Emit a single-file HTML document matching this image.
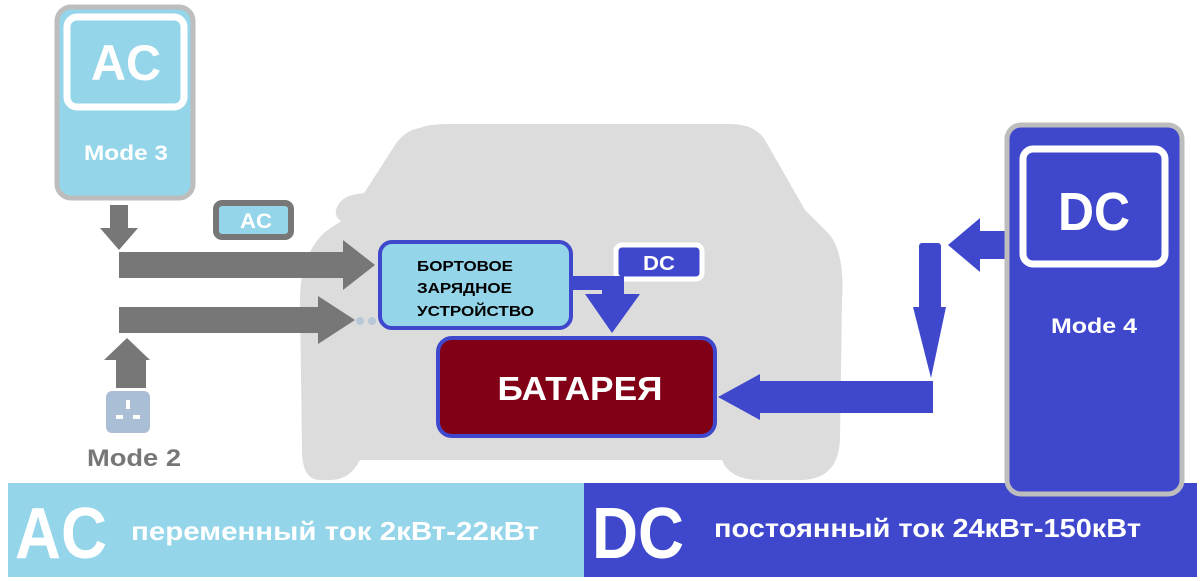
<!DOCTYPE html>
<html><head><meta charset="utf-8"><style>
html,body{margin:0;padding:0;background:#fff;}
svg{display:block;}
text{font-family:"Liberation Sans",sans-serif;font-weight:bold;}
</style></head><body>
<svg width="1203" height="581" viewBox="0 0 1203 581" xmlns="http://www.w3.org/2000/svg">
<!-- car silhouette -->
<g fill="#dcdcdc">
<path d="M420 128 Q428 124 450 124 L730 124 Q755 124 765 140 L805 210 L830 235 Q845 255 842 300 L840 440 Q838 480 800 480 L760 480 Q730 480 722 460 L360 460 Q350 480 330 480 L320 480 Q302 480 302 450 L300 300 Q300 255 325 232 L350 215 L395 145 Q405 130 420 128 Z"/>
<path d="M338 205 Q345 192 375 193 L372 222 L342 222 Q332 215 338 205 Z"/>
<path d="M770 193 Q795 192 800 205 Q803 220 790 222 L775 222 Z"/>
</g>
<!-- Mode 3 box -->
<rect x="57" y="7" width="136" height="191" rx="14" fill="#94d5ea" stroke="#bdbdbd" stroke-width="5"/>
<rect x="67" y="17" width="117" height="90" rx="10" fill="#94d5ea" stroke="#fff" stroke-width="7"/>
<text x="126" y="80" font-size="50" fill="#fff" text-anchor="middle" textLength="70" lengthAdjust="spacingAndGlyphs">AC</text>
<text x="126" y="160" font-size="21" fill="#fff" text-anchor="middle" textLength="84" lengthAdjust="spacingAndGlyphs">Mode 3</text>
<!-- gray arrows -->
<g fill="#777">
<rect x="110" y="205" width="18" height="25"/>
<polygon points="100,228 138,228 119,250"/>
<rect x="119" y="252" width="228" height="26"/>
<polygon points="343,240 375,265 343,290"/>
<rect x="119" y="307" width="210" height="26"/>
<polygon points="318,296 355,320 318,344"/>
<polygon points="104,360 127,338 150,360"/>
<rect x="116" y="358" width="30" height="30"/>
</g>
<circle cx="360" cy="321" r="4" fill="#b8c8d8"/><circle cx="372" cy="321" r="4" fill="#b8c8d8"/>
<!-- socket -->
<rect x="106" y="391" width="44" height="42" rx="6" fill="#aabfd6"/>
<rect x="126" y="400" width="4" height="9" fill="#fff"/>
<rect x="116" y="415" width="7" height="4" fill="#fff"/><rect x="133" y="415" width="7" height="4" fill="#fff"/>
<text x="134" y="466" font-size="24" fill="#777" text-anchor="middle" textLength="94" lengthAdjust="spacingAndGlyphs">Mode 2</text>
<!-- AC tag -->
<rect x="216" y="203" width="75" height="34" rx="6" fill="#94d5ea" stroke="#777" stroke-width="6"/>
<text x="256" y="228" font-size="21" fill="#fff" text-anchor="middle" textLength="32" lengthAdjust="spacingAndGlyphs">AC</text>
<!-- onboard charger -->
<rect x="380" y="242" width="191" height="86" rx="12" fill="#94d5ea" stroke="#3f48cc" stroke-width="4"/>
<text x="417" y="271" font-size="15" fill="#000" textLength="96" lengthAdjust="spacingAndGlyphs">БОРТОВОЕ</text>
<text x="417" y="293" font-size="15" fill="#000" textLength="95" lengthAdjust="spacingAndGlyphs">ЗАРЯДНОЕ</text>
<text x="417" y="316" font-size="15" fill="#000" textLength="117" lengthAdjust="spacingAndGlyphs">УСТРОЙСТВО</text>
<!-- DC tag -->
<rect x="616" y="245" width="86" height="34" rx="6" fill="#3f48cc" stroke="#fff" stroke-width="5"/>
<text x="659" y="270" font-size="20" fill="#fff" text-anchor="middle" textLength="32" lengthAdjust="spacingAndGlyphs">DC</text>
<!-- blue arrow charger->battery -->
<g fill="#3f48cc">
<rect x="572" y="276" width="52" height="14"/>
<rect x="602" y="276" width="22" height="20"/>
<polygon points="585,294 640,294 612,333"/>
</g>
<!-- battery -->
<rect x="438" y="338" width="277" height="98" rx="14" fill="#820016" stroke="#3f48cc" stroke-width="4"/>
<text x="580" y="400" font-size="33" fill="#fff" text-anchor="middle" textLength="165" lengthAdjust="spacingAndGlyphs">БАТАРЕЯ</text>
<!-- blue arrows right -->
<g fill="#3f48cc">
<rect x="978" y="231" width="28" height="28"/>
<polygon points="980,218 980,272 948,245"/>
<rect x="919" y="243" width="22" height="68" rx="3"/>
<polygon points="913,307 946,307 931,378"/>
<rect x="758" y="381" width="175" height="32"/>
<polygon points="760,374 760,420 718,397"/>
</g>
<!-- bottom strip -->
<rect x="8" y="483" width="576" height="94" fill="#94d5ea"/>
<rect x="584" y="483" width="613" height="94" fill="#3f48cc"/>
<text x="15" y="558" font-size="72" fill="#fff" textLength="92" lengthAdjust="spacingAndGlyphs">AC</text>
<text x="131" y="540" font-size="26" fill="#fff" textLength="408" lengthAdjust="spacingAndGlyphs">переменный ток 2кВт-22кВт</text>
<text x="592" y="558" font-size="72" fill="#fff" textLength="92" lengthAdjust="spacingAndGlyphs">DC</text>
<text x="714" y="537" font-size="26" fill="#fff" textLength="427" lengthAdjust="spacingAndGlyphs">постоянный ток 24кВт-150кВт</text>
<!-- Mode 4 (over strip) -->
<rect x="1007" y="125" width="175" height="369" rx="14" fill="#3f48cc" stroke="#bdbdbd" stroke-width="5"/>
<rect x="1023" y="149" width="142" height="115" rx="10" fill="#3f48cc" stroke="#fff" stroke-width="7"/>
<text x="1094" y="230" font-size="54" fill="#fff" text-anchor="middle" textLength="72" lengthAdjust="spacingAndGlyphs">DC</text>
<text x="1094" y="333" font-size="21" fill="#fff" text-anchor="middle" textLength="86" lengthAdjust="spacingAndGlyphs">Mode 4</text>
</svg>
</body></html>
